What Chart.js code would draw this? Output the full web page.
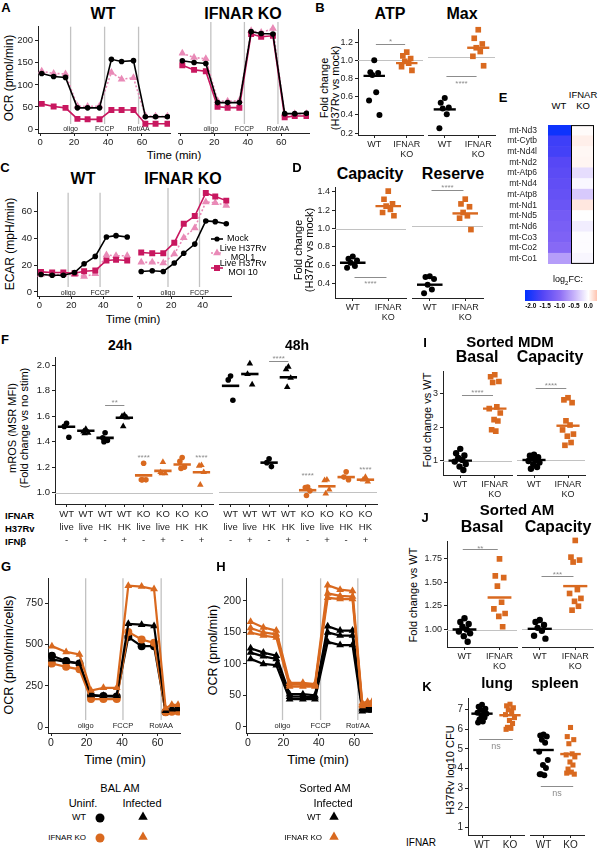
<!DOCTYPE html>
<html>
<head>
<meta charset="utf-8">
<title>Figure</title>
<script src="https://cdn.jsdelivr.net/npm/chart.js@4.4.1/dist/chart.umd.min.js"></script>
<style>
  html, body { margin: 0; padding: 0; background: #fff; }
  body { position: relative; width: 600px; height: 849px; overflow: hidden;
         font-family: "Liberation Sans", Arial, Helvetica, sans-serif; color: #000; }
  canvas { position: absolute; }
  .t { position: absolute; white-space: nowrap; line-height: 1.1; }
  svg { position: absolute; overflow: visible; }
</style>
</head>
<body>
<script>
/* ---------- data ---------- */

// A: OCR, seahorse time course
const seahorseTime = [1, 8, 15, 22, 28, 35, 42, 48, 55, 62, 68, 75];
const injectionTime = [18, 38, 58];
const injectionLabel = ['oligo', 'FCCP', 'Rot/AA'];
const aWtMock  = [126, 119, 117, 48, 48, 48, 158, 153, 155, 28, 28, 28];
const aWtMoi1  = [131, 126, 125, 52, 51, 52, 128, 113, 116, 30, 29, 29];
const aWtMoi10 = [57, 51, 48, 23, 22, 22, 43, 43, 43, 12, 12, 12];
const aKoMock  = [148, 144, 142, 57, 57, 57, 211, 207, 206, 33, 33, 34];
const aKoMoi1  = [164, 155, 152, 61, 60, 61, 213, 209, 218, 32, 33, 33];
const aKoMoi10 = [138, 128, 125, 48, 46, 46, 206, 200, 202, 25, 28, 28];

// C: ECAR
const ecarTime = [1, 8, 15, 22, 28, 35, 42, 48, 55];
const cWtMock  = [13, 12.5, 12.5, 14.5, 21, 26.5, 41, 42, 41];
const cWtMoi1  = [13, 13, 13, 13, 11.5, 13.5, 27.5, 27, 27];
const cWtMoi10 = [15, 14.5, 14.5, 14, 15.5, 16, 23.5, 24, 23.5];
const cKoMock  = [14.5, 15, 14.5, 20.5, 27.5, 34, 50.5, 50, 48.5];
const cKoMoi1  = [21, 21, 20.5, 27, 38.5, 45.5, 64, 63.5, 61.5];
const cKoMoi10 = [28, 27.5, 27.5, 35, 48.5, 54, 70.5, 68, 65];

// B: fold change H37Rv vs mock
const bAtpWt = [1.0, 0.87, 0.86, 0.84, 0.65, 0.56, 0.40];
const bAtpKo = [1.09, 1.05, 1.02, 0.99, 0.97, 0.93, 0.89];
const bMaxWt = [0.57, 0.52, 0.47, 0.46, 0.40, 0.25];
const bMaxKo = [1.29, 1.20, 1.14, 1.10, 1.06, 1.01, 0.91];
const bAtpMid = [0.83, 0.97];
const bMaxMid = [0.45, 1.10];

// D
const dCapWt = [0.695, 0.67, 0.65, 0.625, 0.59, 0.57];
const dCapKo = [1.41, 1.32, 1.27, 1.245, 1.21, 1.175, 1.14];
const dResWt = [0.47, 0.46, 0.44, 0.38, 0.33, 0.29];
const dResKo = [1.28, 1.23, 1.20, 1.14, 1.105, 1.08, 0.96];
const dCapMid = [0.625, 1.245];
const dResMid = [0.38, 1.13];

// E: log2FC heatmap
const genes = ['mt-Nd3', 'mt-Cytb', 'mt-Nd4l', 'mt-Nd2', 'mt-Atp6', 'mt-Nd4', 'mt-Atp8',
               'mt-Nd1', 'mt-Nd5', 'mt-Nd6', 'mt-Co3', 'mt-Co2', 'mt-Co1'];
const fcWT = [-2.1, -1.75, -1.7, -1.55, -1.5, -1.45, -1.4, -1.35, -1.25, -1.2, -1.15, -1.05, -0.65];
const fcKO = [0.02, 0.08, 0.04, 0.05, -0.22, -0.05, -0.35, 0.12, 0.0, -0.12, -0.02, -0.02, -0.06];
const fcTicks = [-2.0, -1.5, -1.0, -0.5, 0.0];

// F: mROS
const fIfnar  = ['WT', 'WT', 'WT', 'WT', 'KO', 'KO', 'KO', 'KO'];
const fStrain = ['live', 'live', 'HK', 'HK', 'live', 'live', 'HK', 'HK'];
const fIfnb   = ['-', '+', '-', '+', '-', '+', '-', '+'];
const f24 = [
  [1.545, 1.52, 1.435], [1.50, 1.48, 1.47, 1.465], [1.47, 1.43, 1.41, 1.40], [1.61, 1.60, 1.59, 1.52],
  [1.23, 1.10, 1.10, 1.10], [1.24, 1.16, 1.15, 1.15], [1.275, 1.245, 1.20, 1.19], [1.215, 1.21, 1.16, 1.06]
];
const f24Mid = [1.517, 1.486, 1.43, 1.588, 1.135, 1.17, 1.22, 1.16];
const f48 = [
  [1.885, 1.855, 1.70], [1.98, 1.90, 1.82], [1.255, 1.225, 1.195], [1.955, 1.935, 1.87, 1.80],
  [1.04, 1.035, 1.01, 0.975], [1.095, 1.09, 1.02, 0.99], [1.155, 1.115, 1.095], [1.115, 1.095, 1.08]
];
const f48Mid = [1.81, 1.90, 1.225, 1.875, 1.015, 1.045, 1.115, 1.095];

// G: BAL AM OCR
const gTime = [0.5, 8.5, 16, 22.5, 29.5, 37, 43.5, 51, 58, 64.5, 68, 71.5];
const gInjection = [19.5, 40.5, 62];
const gWtUninf = [432, 400, 385, 190, 188, 185, 545, 490, 490, 92, 100, 105];
const gWtInf   = [410, 395, 385, 195, 190, 190, 625, 620, 612, 100, 108, 110];
const gKoUninf = [385, 365, 350, 170, 170, 170, 575, 530, 510, 90, 93, 95];
const gKoInf   = [490, 455, 440, 222, 238, 238, 855, 850, 835, 115, 135, 135];

// H: sorted AM OCR (three mice each)
const hTime = [1.5, 8.7, 16, 23.5, 31, 37.8, 45, 52, 59, 64.5, 67.5, 70];
const hInjection = [19.5, 41, 62];
const hWtInf = [
  [125, 118, 113, 52, 52, 50, 160, 153, 153, 30, 30, 30],
  [118, 112, 108, 48, 48, 47, 150, 145, 145, 28, 28, 28],
  [108, 100, 98, 44, 44, 44, 135, 130, 130, 25, 26, 26]
];
const hKoInf = [
  [167, 158, 153, 70, 70, 68, 225, 218, 216, 38, 40, 40],
  [157, 150, 147, 67, 67, 66, 212, 208, 207, 35, 37, 37],
  [150, 145, 142, 64, 64, 64, 205, 203, 203, 33, 35, 35]
];

// I: sorted MDM
const iBasWt = [1.35, 1.22, 1.15, 1.08, 1.02, 0.97, 0.9, 0.82, 0.72];
const iBasKo = [3.56, 3.5, 3.36, 3.33, 2.6, 2.55, 2.42, 2.22, 2.18, 1.92, 1.88];
const iCapWt = [1.15, 1.12, 1.08, 1.05, 1.0, 0.97, 0.93, 0.88, 0.8, 0.75];
const iCapKo = [2.78, 2.72, 2.64, 2.12, 2.0, 1.86, 1.74, 1.68, 1.5, 1.42];
const iBasMid = [1.0, 2.55];
const iCapMid = [1.0, 1.98];

// J: sorted AM
const jBasWt = [1.12, 1.08, 1.06, 1.03, 1.0, 0.98, 0.96, 0.93, 0.87];
const jBasKo = [1.75, 1.57, 1.55, 1.46, 1.29, 1.22, 1.17, 1.14, 1.03];
const jCapWt = [1.09, 1.07, 1.04, 1.01, 0.98, 0.93, 0.90];
const jCapKo = [1.9, 1.73, 1.7, 1.68, 1.4, 1.36, 1.31, 1.28, 1.23, 1.19];
const jBasMid = [1.0, 1.34];
const jCapMid = [1.0, 1.435];

// K: CFU
const kLungWt = [7.25, 7.15, 7.05, 7.0, 6.95, 6.85, 6.8, 6.7, 6.6, 6.5, 6.4, 6.35];
const kLungKo = [7.28, 7.2, 7.1, 7.0, 6.9, 6.75, 6.6, 6.45, 6.3, 6.1, 6.05, 6.0];
const kSplWt  = [5.55, 5.5, 5.45, 5.3, 5.15, 4.7, 4.3, 4.05, 3.9, 3.6, 3.55, 3.6];
const kSplKo  = [5.9, 5.45, 5.3, 5.1, 4.6, 4.55, 4.45, 4.2, 4.05, 3.85, 3.7, 3.65, 3.6];
const kLungMid = [6.8, 6.72];
const kSplMid  = [4.79, 4.59];

/* ---------- style ---------- */
const FONT = '"Liberation Sans", Arial, Helvetica, sans-serif';
Chart.defaults.font.family = FONT;
Chart.defaults.color = '#222';

const BLACK = '#000000', PINK = '#E98AB7', MAGENTA = '#C8175F', ORANGE = '#D9691F';
const REFGREY = '#C2C2C2', SIGGREY = '#8C8C8C', AXIS = '#222222';
const JIT = [0, -0.12, 0.12, -0.06, 0.06, -0.16, 0.16, -0.02, 0.09, -0.09, 0.03, -0.14, 0.14];

const annot = {
  id: 'annot',
  beforeDatasetsDraw(chart, _a, o) {
    const { ctx, chartArea: ca, scales: { x, y } } = chart;
    ctx.save();
    (o.hlines || []).forEach(v => {
      const py = Math.round(y.getPixelForValue(v)) + 0.5;
      ctx.strokeStyle = REFGREY; ctx.lineWidth = 1;
      ctx.beginPath(); ctx.moveTo(ca.left, py); ctx.lineTo(ca.right, py); ctx.stroke();
    });
    (o.vlines || []).forEach((v, i) => {
      const px = x.getPixelForValue(v);
      ctx.strokeStyle = REFGREY; ctx.lineWidth = 1.3;
      ctx.beginPath(); ctx.moveTo(px, ca.top); ctx.lineTo(px, ca.bottom - (o.vgap || 9)); ctx.stroke();
      if (o.vlabels) {
        ctx.fillStyle = '#222'; ctx.font = `${o.vfs || 7}px ${FONT}`;
        ctx.textAlign = 'center'; ctx.textBaseline = 'middle';
        ctx.fillText(o.vlabels[i], px, ca.bottom - (o.vlabelOff || 4));
      }
    });
    ctx.restore();
  },
  afterDatasetsDraw(chart, _a, o) {
    const { ctx, scales: { x, y } } = chart;
    const fs = o.sfs || 8;
    ctx.save();
    ctx.font = `${fs}px ${FONT}`;
    ctx.fillStyle = SIGGREY; ctx.strokeStyle = SIGGREY; ctx.lineWidth = 1;
    ctx.textAlign = 'center'; ctx.textBaseline = 'alphabetic';
    (o.sig || []).forEach(s => {
      let cx = x.getPixelForValue(s.x1);
      if (s.x2 !== undefined) {
        const x2 = x.getPixelForValue(s.x2);
        const py = Math.round(y.getPixelForValue(s.y)) + 0.5;
        ctx.beginPath(); ctx.moveTo(cx, py); ctx.lineTo(x2, py); ctx.stroke();
        cx = (cx + x2) / 2;
      }
      const k = s.text.includes('*') ? 0.57 : 0.26;
      ctx.fillText(s.text, cx, y.getPixelForValue(s.ty) + k * fs);
    });
    ctx.restore();
  }
};

/* ---------- helpers ---------- */
function canvasAt(l, t, w, h) {
  const c = document.createElement('canvas');
  c.width = w; c.height = h;
  Object.assign(c.style, { left: l + 'px', top: t + 'px', width: w + 'px', height: h + 'px' });
  document.body.appendChild(c);
  return c;
}

function txt(s, x, y, o = {}) {
  const d = document.createElement('div');
  d.className = 't';
  d.innerHTML = s;
  d.style.left = x + 'px'; d.style.top = y + 'px';
  d.style.fontSize = (o.size || 10) + 'px';
  if (o.bold) d.style.fontWeight = 'bold';
  if (o.color) d.style.color = o.color;
  if (o.lh) d.style.lineHeight = o.lh;
  d.style.textAlign = o.ta || 'center';
  const ax = o.align === 'left' ? '0' : o.align === 'right' ? '-100%' : '-50%';
  d.style.transform = `translate(${ax}, -50%)` + (o.rot ? ` rotate(${o.rot}deg)` : '');
  document.body.appendChild(d);
}

function mark(kind, color, x, y, r, line) {
  const s = document.createElementNS('http://www.w3.org/2000/svg', 'svg');
  s.setAttribute('width', 1); s.setAttribute('height', 1);
  s.style.left = x + 'px'; s.style.top = y + 'px';
  let g = '';
  if (line) g += `<line x1="${-line}" y1="0" x2="${line}" y2="0" stroke="${color}" stroke-width="1.6"${kind === 'triangle' ? ' stroke-dasharray="2,2"' : ''}/>`;
  if (kind === 'circle') g += `<circle cx="0" cy="0" r="${r}" fill="${color}"/>`;
  if (kind === 'rect') g += `<rect x="${-r}" y="${-r}" width="${2 * r}" height="${2 * r}" fill="${color}"/>`;
  if (kind === 'triangle') g += `<polygon points="0,${-r} ${r * 0.866},${r / 2} ${-r * 0.866},${r / 2}" fill="${color}"/>`;
  s.innerHTML = g;
  document.body.appendChild(s);
}

function panel(a, o) {
  const padL = o.noY ? 0 : (o.padL || 26);
  const padB = o.padB || 16, padT = 3, padR = 3;
  const c = canvasAt(a[0] - padL, a[1] - padT, a[2] - a[0] + padL + padR, a[3] - a[1] + padT + padB);
  const fs = o.fs || 9;
  const tickCfg = { display: true, drawOnChartArea: false, drawTicks: true, tickLength: 3, color: AXIS, lineWidth: 1 };
  return new Chart(c, {
    type: 'scatter',
    data: { datasets: o.datasets },
    options: {
      responsive: false, animation: false, events: [],
      layout: { padding: { top: padT, right: padR, left: 0, bottom: 0 }, autoPadding: false },
      plugins: { legend: { display: false }, tooltip: { enabled: false }, annot: o.annot || {} },
      scales: {
        x: {
          type: 'linear', min: o.x[0], max: o.x[1],
          afterBuildTicks: s => { s.ticks = o.xt.map(v => ({ value: v })); },
          afterFit: s => { s.height = padB; },
          ticks: { callback: (v, i) => (o.xl ? o.xl[i] : v), font: { size: o.xfs || fs, lineHeight: o.xlh || 1.15 },
                   color: '#222', padding: 1, maxRotation: 0, autoSkip: false },
          grid: tickCfg, border: { display: true, color: AXIS, width: 1 }
        },
        y: {
          display: !o.noY, type: 'linear', min: o.y[0], max: o.y[1],
          afterBuildTicks: s => { s.ticks = o.yt.map(v => ({ value: v })); },
          afterFit: s => { s.width = padL; },
          ticks: { callback: v => (o.yf ? o.yf(v) : v), font: { size: fs }, color: '#222', padding: 2, autoSkip: false },
          grid: tickCfg, border: { display: true, color: AXIS, width: 1 }
        }
      }
    },
    plugins: [annot]
  });
}

const dotSet = (xc, vals, color, style, r) => ({
  data: vals.map((v, i) => ({ x: xc + JIT[i % JIT.length], y: v })),
  pointStyle: style, pointRadius: r, backgroundColor: color, borderColor: color, borderWidth: 0, showLine: false
});
const barSet = (xc, v, color, hw = 0.33, lw = 2.4) => ({
  data: [{ x: xc - hw, y: v }, { x: xc + hw, y: v }],
  showLine: true, borderColor: color, borderWidth: lw, pointRadius: 0
});
const lineSet = (xs, ys, color, style, r, dash, lw = 1.6) => ({
  data: ys.map((v, i) => ({ x: xs[i], y: v })), showLine: true, borderColor: color, backgroundColor: color,
  borderWidth: lw, pointStyle: style, pointRadius: r, pointBorderWidth: 0, borderDash: dash || []
});
const f1 = v => v.toFixed(1), f2 = v => v.toFixed(2);
const catLabels = ['WT', ['IFNAR', 'KO']];

/* ---------- A ---------- */
txt('A', 6, 8, { size: 13, bold: true });
txt('WT', 103, 14, { size: 16, bold: true });
txt('IFNAR KO', 243, 14, { size: 16, bold: true });
txt('OCR (pmol/min)', 10, 78, { size: 12, rot: -90 });
txt('Time (min)', 174, 155, { size: 11.5 });
const aOpt = { x: [-1.2, 76.5], xt: [0, 20, 40, 60], y: [-9, 232], yt: [0, 50, 100, 150, 200], padL: 24, fs: 9.5,
  annot: { vlines: injectionTime, vlabels: injectionLabel, vgap: 9, vlabelOff: 4, vfs: 7 } };
panel([38, 22, 170, 133], Object.assign({}, aOpt, { datasets: [
  lineSet(seahorseTime, aWtMock, BLACK, 'circle', 2.8),
  lineSet(seahorseTime, aWtMoi10, MAGENTA, 'rect', 4.2),
  lineSet(seahorseTime, aWtMoi1, PINK, 'triangle', 4.5, [2, 2])
] }));
panel([177, 22, 309, 133], Object.assign({}, aOpt, { noY: true, datasets: [
  lineSet(seahorseTime, aKoMock, BLACK, 'circle', 2.8),
  lineSet(seahorseTime, aKoMoi10, MAGENTA, 'rect', 4.2),
  lineSet(seahorseTime, aKoMoi1, PINK, 'triangle', 4.5, [2, 2])
] }));

/* ---------- C ---------- */
txt('C', 5, 168, { size: 13, bold: true });
txt('WT', 83, 179, { size: 16, bold: true });
txt('IFNAR KO', 183, 179, { size: 16, bold: true });
txt('ECAR (mpH/min)', 11, 244, { size: 12, rot: -90 });
txt('Time (min)', 133, 319, { size: 11.5 });
const cOpt = { x: [-1.5, 58], xt: [0, 20, 40], y: [-3, 74], yt: [0, 20, 40, 60], padL: 20, fs: 9.5,
  annot: { vlines: [18, 38], vlabels: ['oligo', 'FCCP'], vgap: 9, vlabelOff: 3, vfs: 7 } };
panel([37, 188, 132, 296], Object.assign({}, cOpt, { datasets: [
  lineSet(ecarTime, cWtMock, BLACK, 'circle', 2.8),
  lineSet(ecarTime, cWtMoi10, MAGENTA, 'rect', 4.2),
  lineSet(ecarTime, cWtMoi1, PINK, 'triangle', 4.5, [2, 2])
] }));
panel([136, 188, 231, 296], Object.assign({}, cOpt, { noY: true, datasets: [
  lineSet(ecarTime, cKoMock, BLACK, 'circle', 2.8),
  lineSet(ecarTime, cKoMoi10, MAGENTA, 'rect', 4.2),
  lineSet(ecarTime, cKoMoi1, PINK, 'triangle', 4.5, [2, 2])
] }));
mark('circle', BLACK, 217, 239, 2.6, 6);
mark('triangle', PINK, 217, 253, 4.5, 6);
mark('rect', MAGENTA, 217, 268, 3, 6);
txt('Mock', 227, 239, { size: 9, align: 'left' });
txt('Live H37Rv<br>MOI 1', 243, 253, { size: 9, lh: '1.0' });
txt('Live H37Rv<br>MOI 10', 243, 268, { size: 9, lh: '1.0' });

/* ---------- B ---------- */
txt('B', 320, 8, { size: 13, bold: true });
txt('ATP', 390, 14, { size: 16, bold: true });
txt('Max', 462, 14, { size: 16, bold: true });
txt('Fold change<br>(H37Rv vs mock)', 330, 88, { size: 11, rot: -90, lh: '1.0' });
const bOpt = { x: [0.5, 2.5], xt: [1, 2], xl: catLabels, y: [0.18, 1.34], yt: [0.2, 0.4, 0.6, 0.8, 1.0, 1.2],
  yf: f1, padL: 22, padB: 26, fs: 9 };
panel([358, 25, 423, 135], Object.assign({}, bOpt, {
  datasets: [barSet(1, bAtpMid[0], BLACK), barSet(2, bAtpMid[1], ORANGE),
             dotSet(1, bAtpWt, BLACK, 'circle', 3), dotSet(2, bAtpKo, ORANGE, 'rect', 4)],
  annot: { hlines: [1], sig: [{ x1: 1.05, x2: 1.95, y: 1.18, ty: 1.225, text: '*' }] } }));
panel([428, 25, 495, 135], Object.assign({}, bOpt, { noY: true,
  datasets: [barSet(1, bMaxMid[0], BLACK), barSet(2, bMaxMid[1], ORANGE),
             dotSet(1, bMaxWt, BLACK, 'circle', 3), dotSet(2, bMaxKo, ORANGE, 'rect', 4)],
  annot: { hlines: [1], sig: [{ x1: 1.05, x2: 1.95, y: 0.80, ty: 0.745, text: '****' }] } }));

/* ---------- D ---------- */
txt('D', 297, 168, { size: 13, bold: true });
txt('Capacity', 370, 174, { size: 16, bold: true });
txt('Reserve', 453, 174, { size: 16, bold: true });
txt('Fold change<br>(H37Rv vs mock)', 304, 250, { size: 11, rot: -90, lh: '1.0' });
const dOpt = { x: [0.5, 2.5], xt: [1, 2], xl: catLabels, y: [0.24, 1.45], yt: [0.4, 0.6, 0.8, 1.0, 1.2, 1.4],
  yf: f1, padL: 22, padB: 26, fs: 9 };
panel([335, 183, 406, 298], Object.assign({}, dOpt, {
  datasets: [barSet(1, dCapMid[0], BLACK, 0.36), barSet(2, dCapMid[1], ORANGE, 0.36),
             dotSet(1, dCapWt, BLACK, 'circle', 3), dotSet(2, dCapKo, ORANGE, 'rect', 4)],
  annot: { hlines: [1], sig: [{ x1: 1.05, x2: 1.95, y: 0.47, ty: 0.425, text: '****' }] } }));
panel([412, 183, 483, 298], Object.assign({}, dOpt, { noY: true,
  datasets: [barSet(1, dResMid[0], BLACK, 0.36), barSet(2, dResMid[1], ORANGE, 0.36),
             dotSet(1, dResWt, BLACK, 'circle', 3), dotSet(2, dResKo, ORANGE, 'rect', 4)],
  annot: { hlines: [1], sig: [{ x1: 1.05, x2: 1.95, y: 1.38, ty: 1.425, text: '****' }] } }));

/* ---------- E ---------- */
txt('E', 503, 98, { size: 13, bold: true });
txt('WT', 559, 106, { size: 9.5 });
txt('IFNAR<br>KO', 583, 101, { size: 9.5, lh: '1.15' });
const HEAT = [[-2.2, [0, 48, 255]], [-1.6, [82, 68, 245]], [-1.0, [140, 108, 245]], [-0.5, [198, 178, 250]],
              [0, [255, 255, 255]], [0.3, [255, 196, 176]]];
function heatColor(v) {
  for (let i = 1; i < HEAT.length; i++) {
    if (v <= HEAT[i][0] || i === HEAT.length - 1) {
      const [v0, c0] = HEAT[i - 1], [v1, c1] = HEAT[i];
      const t = Math.max(0, Math.min(1, (v - v0) / (v1 - v0)));
      return `rgb(${c0.map((c, k) => Math.round(c + (c1[k] - c) * t)).join(',')})`;
    }
  }
}
const heatFrame = {
  id: 'heatFrame',
  afterDatasetsDraw(chart) {
    const { ctx, chartArea: ca, scales: { x } } = chart;
    const x1 = x.getPixelForValue(1), x2 = x.getPixelForValue(2);
    ctx.save(); ctx.strokeStyle = '#000'; ctx.lineWidth = 1;
    ctx.strokeRect(Math.round(x1) + 0.5, ca.top + 0.5, Math.round(x2 - x1) - 1, ca.bottom - ca.top - 1);
    ctx.restore();
  }
};
new Chart(canvasAt(548 - 52, 117, 46 + 52, 155), {
  type: 'bar',
  data: { labels: genes, datasets: [
    { data: genes.map(() => [0, 1]), backgroundColor: fcWT.map(heatColor), borderWidth: 0, barPercentage: 1, categoryPercentage: 1, grouped: false },
    { data: genes.map(() => [1, 2]), backgroundColor: fcKO.map(heatColor), borderWidth: 0, barPercentage: 1, categoryPercentage: 1, grouped: false }
  ] },
  options: {
    indexAxis: 'y', responsive: false, animation: false, events: [],
    layout: { padding: 0, autoPadding: false },
    plugins: { legend: { display: false }, tooltip: { enabled: false } },
    scales: {
      x: { display: false, min: 0, max: 2 },
      y: { afterFit: s => { s.width = 52; }, grid: { display: false }, border: { display: false },
           ticks: { font: { size: 8.5 }, color: '#222', padding: 3, autoSkip: false } }
    }
  },
  plugins: [heatFrame]
});
txt('log<sub style="font-size:6px">2</sub>FC:', 568, 281, { size: 9 });
(function () {
  const bar = document.createElement('div');
  const stops = HEAT.map(([v, c]) => `rgb(${c.join(',')}) ${((v + 2.2) / 2.5 * 100).toFixed(1)}%`).join(',');
  Object.assign(bar.style, { position: 'absolute', left: '525px', top: '290px', width: '72px', height: '11px',
    background: `linear-gradient(to right, ${stops})` });
  document.body.appendChild(bar);
})();
fcTicks.forEach(v => txt(v.toFixed(1), 525 + (v + 2.2) / 2.5 * 72, 306, { size: 6.5, bold: true }));

/* ---------- F ---------- */
txt('F', 5, 340, { size: 13, bold: true });
txt('24h', 120, 346, { size: 14, bold: true });
txt('48h', 297, 346, { size: 14, bold: true });
txt('mROS (MSR MFI)<br>(Fold change vs no stim)', 19, 428, { size: 11, rot: -90, lh: '1.05' });
txt('IFNAR', 5, 516, { size: 9.5, bold: true, align: 'left' });
txt('H37Rv', 5, 529, { size: 9.5, bold: true, align: 'left' });
txt('IFN&beta;', 5, 542, { size: 9.5, bold: true, align: 'left' });
const fCats = [1, 2, 3, 4, 5, 6, 7, 8];
const fLabels = fCats.map((c, i) => [fIfnar[i], fStrain[i], fIfnb[i]]);
function fSets(vals, mids) {
  const bars = mids.map((m, i) => barSet(fCats[i], m, fIfnar[i] === 'WT' ? BLACK : ORANGE, 0.45, 2.6));
  const dots = vals.map((v, i) => dotSet(fCats[i], v, fIfnar[i] === 'WT' ? BLACK : ORANGE,
    fIfnb[i] === '+' ? 'triangle' : 'circle', fIfnb[i] === '+' ? 3.8 : 2.8));
  return bars.concat(dots);
}
const fOpt = { x: [0.4, 8.6], xt: fCats, xl: fLabels, xlh: 1.37, y: [0.91, 2.06], yt: [1.0, 1.2, 1.4, 1.6, 1.8, 2.0],
  yf: f1, padL: 24, padB: 44, fs: 9.5 };
panel([55, 353, 213, 504], Object.assign({}, fOpt, { datasets: fSets(f24, f24Mid),
  annot: { hlines: [1], sig: [{ x1: 3, x2: 4, y: 1.69, ty: 1.725, text: '**' },
                              { x1: 5, ty: 1.295, text: '****' }, { x1: 8, ty: 1.295, text: '****' }] } }));
panel([219, 353, 377, 504], Object.assign({}, fOpt, { noY: true, datasets: fSets(f48, f48Mid),
  annot: { hlines: [1], sig: [{ x1: 3, x2: 4, y: 2.0, ty: 2.035, text: '****' },
                              { x1: 5, ty: 1.14, text: '****' }, { x1: 8, ty: 1.19, text: '****' }] } }));

/* ---------- G ---------- */
txt('G', 6, 567, { size: 13, bold: true });
txt('OCR (pmol/min/cells)', 10, 655, { size: 12.5, rot: -90 });
txt('Time (min)', 115, 760, { size: 13 });
panel([48, 573, 180, 733], { x: [-1.7, 72.6], xt: [0, 20, 40, 60], y: [-35, 900], yt: [0, 250, 500, 750],
  padL: 24, padB: 18, fs: 10.5,
  annot: { vlines: gInjection, vlabels: injectionLabel, vgap: 13, vlabelOff: 7, vfs: 7.5 },
  datasets: [
    lineSet(gTime, gKoInf, ORANGE, 'triangle', 4.5, null, 2.2),
    lineSet(gTime, gWtInf, BLACK, 'triangle', 4.5, null, 2.2),
    lineSet(gTime, gKoUninf, ORANGE, 'circle', 4, null, 2.2),
    lineSet(gTime, gWtUninf, BLACK, 'circle', 4, null, 2.2)
  ] });

/* ---------- H ---------- */
txt('H', 221, 567, { size: 13, bold: true });
txt('OCR (pmol/min)', 214, 650, { size: 12.5, rot: -90 });
txt('Time (min)', 318, 760, { size: 13 });
panel([246, 573, 372, 733], { x: [-1.1, 70], xt: [0, 20, 40, 60], y: [-9.7, 236], yt: [0, 50, 100, 150, 200],
  padL: 24, padB: 18, fs: 10.5,
  annot: { vlines: hInjection, vlabels: injectionLabel, vgap: 13, vlabelOff: 7, vfs: 7.5 },
  datasets: hKoInf.map(v => lineSet(hTime, v, ORANGE, 'triangle', 4.5, null, 2.2))
    .concat(hWtInf.map(v => lineSet(hTime, v, BLACK, 'triangle', 4.5, null, 2.2))) });

/* ---------- G/H legends ---------- */
txt('BAL AM', 120, 788, { size: 11 });
txt('Uninf.', 83, 803, { size: 11 });
txt('Infected', 142, 803, { size: 11 });
txt('WT', 86, 818, { size: 9, align: 'right' });
txt('IFNAR KO', 86, 838, { size: 8, align: 'right' });
mark('circle', BLACK, 100, 818, 4.5);
mark('triangle', BLACK, 143, 817, 5.5);
mark('circle', ORANGE, 100, 838, 4.5);
mark('triangle', ORANGE, 143, 837, 5.5);
txt('Sorted AM', 325, 788, { size: 11 });
txt('Infected', 333, 803, { size: 11 });
txt('WT', 321, 818, { size: 9, align: 'right' });
txt('IFNAR KO', 322, 838, { size: 8, align: 'right' });
mark('triangle', BLACK, 334, 817, 5.5);
mark('triangle', ORANGE, 334, 837, 5.5);

/* ---------- I ---------- */
txt('I', 425, 343, { size: 13, bold: true });
txt('Sorted MDM', 510, 342, { size: 15, bold: true });
txt('Basal', 477, 357, { size: 16, bold: true });
txt('Capacity', 550, 357, { size: 16, bold: true });
txt('Fold change vs WT', 427, 420, { size: 11, rot: -90 });
const iOpt = { x: [0.5, 2.5], xt: [1, 2], xl: catLabels, y: [0.57, 3.66], yt: [1, 2, 3], padL: 14, padB: 26, fs: 9 };
panel([443, 367, 512, 475], Object.assign({}, iOpt, {
  datasets: [barSet(1, iBasMid[0], BLACK, 0.34), barSet(2, iBasMid[1], ORANGE, 0.34),
             dotSet(1, iBasWt, BLACK, 'circle', 3.2), dotSet(2, iBasKo, ORANGE, 'rect', 4)],
  annot: { hlines: [1], sig: [{ x1: 1.05, x2: 1.95, y: 2.97, ty: 3.08, text: '****' }] } }));
panel([517, 367, 585, 475], Object.assign({}, iOpt, { noY: true,
  datasets: [barSet(1, iCapMid[0], BLACK, 0.34), barSet(2, iCapMid[1], ORANGE, 0.34),
             dotSet(1, iCapWt, BLACK, 'circle', 3.2), dotSet(2, iCapKo, ORANGE, 'rect', 4)],
  annot: { hlines: [1], sig: [{ x1: 1.05, x2: 1.95, y: 3.07, ty: 3.18, text: '****' }] } }));

/* ---------- J ---------- */
txt('J', 425, 518, { size: 13, bold: true });
txt('Sorted AM', 517, 510, { size: 15, bold: true });
txt('Basal', 482, 527, { size: 16, bold: true });
txt('Capacity', 558, 527, { size: 16, bold: true });
txt('Fold change vs WT', 413, 595, { size: 11, rot: -90 });
const jOpt = { x: [0.5, 2.5], xt: [1, 2], xl: catLabels, y: [0.815, 1.935], yt: [1.0, 1.25, 1.5, 1.75],
  yf: f2, padL: 24, padB: 26, fs: 9 };
panel([447, 537, 517, 647], Object.assign({}, jOpt, {
  datasets: [barSet(1, jBasMid[0], BLACK, 0.34), barSet(2, jBasMid[1], ORANGE, 0.34),
             dotSet(1, jBasWt, BLACK, 'circle', 3.2), dotSet(2, jBasKo, ORANGE, 'rect', 4)],
  annot: { hlines: [1], sig: [{ x1: 0.95, x2: 1.95, y: 1.85, ty: 1.885, text: '**' }] } }));
panel([522, 537, 593, 647], Object.assign({}, jOpt, { noY: true,
  datasets: [barSet(1, jCapMid[0], BLACK, 0.34), barSet(2, jCapMid[1], ORANGE, 0.34),
             dotSet(1, jCapWt, BLACK, 'circle', 3.2), dotSet(2, jCapKo, ORANGE, 'rect', 4)],
  annot: { hlines: [1], sig: [{ x1: 1.05, x2: 1.95, y: 1.54, ty: 1.575, text: '***' }] } }));

/* ---------- K ---------- */
txt('K', 427, 687, { size: 13, bold: true });
txt('lung', 497, 683, { size: 15, bold: true });
txt('spleen', 555, 683, { size: 15, bold: true });
txt('H37Rv log10 CFU', 450, 770, { size: 11, rot: -90 });
txt('IFNAR', 421, 842, { size: 10 });
const kOpt = { x: [0.5, 2.5], xt: [1, 2], xl: ['WT', 'KO'], y: [0.6, 7.6], yt: [1, 2, 3, 4, 5, 6, 7],
  padL: 12, padB: 14, fs: 10 };
panel([468, 693, 524, 835], Object.assign({}, kOpt, {
  datasets: [barSet(1, kLungMid[0], BLACK, 0.38), barSet(2, kLungMid[1], ORANGE, 0.38),
             dotSet(1, kLungWt, BLACK, 'circle', 3), dotSet(2, kLungKo, ORANGE, 'rect', 3.6)],
  annot: { sfs: 9, sig: [{ x1: 0.9, x2: 2.1, y: 5.49, ty: 5.12, text: 'ns' }] } }));
panel([530, 693, 584, 835], Object.assign({}, kOpt, { noY: true,
  datasets: [barSet(1, kSplMid[0], BLACK, 0.38), barSet(2, kSplMid[1], ORANGE, 0.38),
             dotSet(1, kSplWt, BLACK, 'circle', 3), dotSet(2, kSplKo, ORANGE, 'rect', 3.6)],
  annot: { sfs: 9, sig: [{ x1: 0.9, x2: 2.1, y: 3.02, ty: 2.66, text: 'ns' }] } }));
</script>
</body>
</html>
